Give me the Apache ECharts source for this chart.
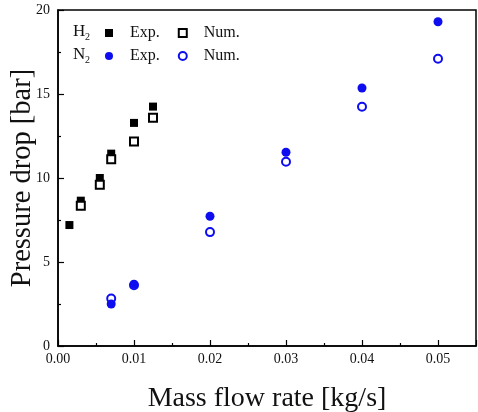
<!DOCTYPE html>
<html><head><meta charset="utf-8">
<script src="https://cdn.jsdelivr.net/npm/echarts@6/dist/echarts.min.js"></script>
<style>html,body{margin:0;padding:0;background:#fff}#c{width:478px;height:412px}</style>
</head><body><div id="c"></div>
<script>
const h2ExpFlow = [0.0015, 0.003, 0.0055, 0.007, 0.01, 0.0125];
const h2Exp = [7.2, 8.65, 10.0, 11.45, 13.28, 14.25];
const h2NumFlow = [0.003, 0.0055, 0.007, 0.01, 0.0125];
const h2Num = [8.35, 9.6, 11.12, 12.18, 13.58];
const n2Flow = [0.007, 0.01, 0.02, 0.03, 0.04, 0.05];
const n2Exp = [2.5, 3.68, 7.72, 11.53, 15.36, 19.3];
const n2Num = [2.82, 3.62, 6.78, 10.97, 14.24, 17.1];
const xTickLabels = ['0.00', '0.01', '0.02', '0.03', '0.04', '0.05'];
const yTickLabels = ['0', '5', '10', '15', '20'];

const FONT = 'Liberation Serif';
const BLUE = '#0d0df0';
const pair = (xs, ys) => xs.map((x, i) => [x, ys[i]]);

const chart = echarts.init(document.getElementById('c'));
const legendCommon = {
  orient: 'horizontal',
  itemWidth: 8, itemHeight: 8, itemGap: 18,
  textStyle: { fontFamily: FONT, fontSize: 16, color: '#111', padding: [0, 0, 0, 12] },
  formatter: n => n.split(' ')[1],
  selectedMode: false
};
chart.setOption({
  animation: false,
  backgroundColor: '#fff',
  grid: { left: 58, top: 10, width: 418, height: 336, outerBoundsMode: 'none', containLabel: false,
    show: true, borderColor: '#000', borderWidth: 1.5, backgroundColor: 'transparent' },
  legend: [
    Object.assign({ left: 100, top: 20, data: ['H2 Exp.', 'H2 Num.'] }, legendCommon),
    Object.assign({ left: 100, top: 43, data: ['N2 Exp.', 'N2 Num.'] }, legendCommon)
  ],
  graphic: [
    { type: 'text', left: 73, top: 23, style: { text: 'H', font: '17px "' + FONT + '"', fill: '#111' } },
    { type: 'text', left: 85, top: 32, style: { text: '2', font: '10px "' + FONT + '"', fill: '#111' } },
    { type: 'text', left: 73, top: 46, style: { text: 'N', font: '17px "' + FONT + '"', fill: '#111' } },
    { type: 'text', left: 85, top: 55, style: { text: '2', font: '10px "' + FONT + '"', fill: '#111' } }
  ],
  xAxis: {
    type: 'value', min: 0, max: 0.055, interval: 0.01,
    name: 'Mass flow rate [kg/s]', nameLocation: 'middle', nameGap: 39,
    nameTextStyle: { fontFamily: FONT, fontSize: 28, color: '#111' },
    axisLine: { show: true, onZero: false, lineStyle: { color: '#000', width: 1.5 } },
    axisTick: { show: true, inside: true, length: 6, lineStyle: { color: '#000', width: 1.2 } },
    minorTick: { show: true, splitNumber: 2, length: 3, lineStyle: { color: '#000', width: 1.2 } },
    splitLine: { show: false },
    axisLabel: { fontFamily: FONT, fontSize: 14, color: '#111', margin: 6, showMaxLabel: false,
      formatter: v => xTickLabels[Math.round(v / 0.01)] || '' }
  },
  yAxis: {
    type: 'value', min: 0, max: 20, interval: 5,
    name: 'Pressure drop [bar]', nameLocation: 'middle', nameGap: 21, nameRotate: 90,
    nameMoveOverlap: false,
    nameTextStyle: { fontFamily: FONT, fontSize: 28.5, color: '#111' },
    axisLine: { show: true, lineStyle: { color: '#000', width: 1.5 } },
    axisTick: { show: true, inside: true, length: 6, lineStyle: { color: '#000', width: 1.2 } },
    minorTick: { show: true, splitNumber: 2, length: 3, lineStyle: { color: '#000', width: 1.2 } },
    splitLine: { show: false },
    axisLabel: { fontFamily: FONT, fontSize: 14, color: '#111', margin: 8,
      formatter: v => yTickLabels[Math.round(v / 5)] || '' }
  },
  series: [
    { name: 'H2 Exp.', type: 'scatter', symbol: 'rect', symbolSize: 8, data: pair(h2ExpFlow, h2Exp),
      itemStyle: { color: '#000', opacity: 1 } },
    { name: 'H2 Num.', type: 'scatter', symbol: 'rect', symbolSize: 8, data: pair(h2NumFlow, h2Num),
      itemStyle: { color: '#fff', borderColor: '#000', borderWidth: 2, opacity: 1 } },
    { name: 'N2 Num.', type: 'scatter', symbol: 'circle', symbolSize: 8, data: pair(n2Flow, n2Num),
      itemStyle: { color: '#fff', borderColor: BLUE, borderWidth: 2, opacity: 1 } },
    { name: 'N2 Exp.', type: 'scatter', symbol: 'circle', symbolSize: 9, data: pair(n2Flow, n2Exp),
      itemStyle: { color: BLUE, opacity: 1 } }
  ]
});
</script></body></html>
